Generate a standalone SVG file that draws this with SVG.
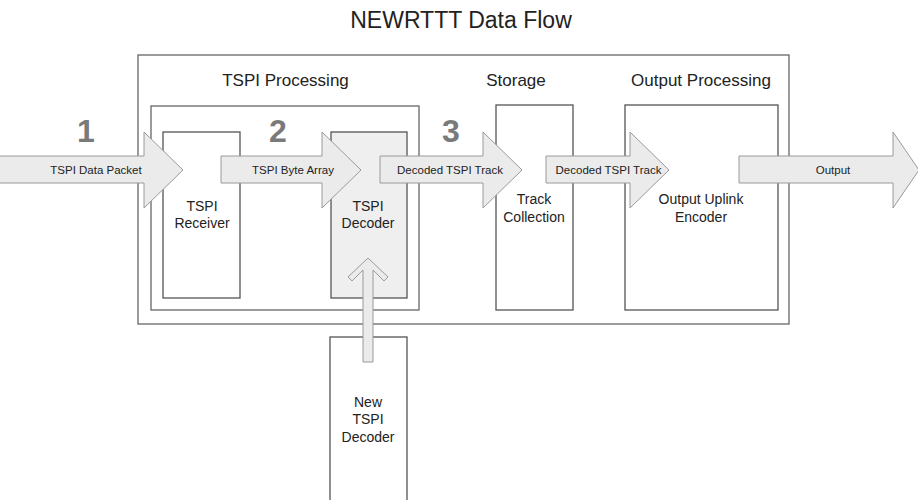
<svg xmlns="http://www.w3.org/2000/svg" width="918" height="500" viewBox="0 0 918 500">
<style>
text{font-family:"Liberation Sans",Arial,sans-serif;fill:#222;text-anchor:middle}
.title{font-size:23px}
.sec{font-size:17px}
.node{font-size:14px}
.lbl{font-size:11.5px}
.num{font-size:32px;font-weight:bold;fill:#7a7a7a}
.box{fill:#fff;stroke:#555;stroke-width:1.3}
.grp{fill:none;stroke:#666;stroke-width:1.3}
.arr{fill:#ebebeb;stroke:#9a9a9a;stroke-width:1}
</style>
<rect width="918" height="500" fill="#fff"/>
<text class="title" x="461" y="28">NEWRTTT Data Flow</text>
<g id="outer">
<rect class="grp" x="138" y="55" width="651" height="269"/>
<text class="sec" x="285.5" y="86">TSPI Processing</text>
<text class="sec" x="516" y="86">Storage</text>
<text class="sec" x="701" y="86">Output Processing</text>
</g>
<g id="tspi-processing">
<rect class="grp" x="151" y="106" width="268" height="204"/>
</g>
<g id="tspi-receiver">
<rect class="box" x="163" y="132" width="77" height="166"/>
<text class="node" x="202" y="211">TSPI</text>
<text class="node" x="202" y="228">Receiver</text>
</g>
<g id="tspi-decoder">
<rect class="box" x="331" y="132" width="76" height="166" style="fill:#efefef"/>
<text class="node" x="368" y="211">TSPI</text>
<text class="node" x="368" y="228">Decoder</text>
</g>
<g id="track-collection">
<rect class="box" x="496" y="105" width="77" height="205"/>
<text class="node" x="534" y="204">Track</text>
<text class="node" x="534" y="222">Collection</text>
</g>
<g id="output-encoder">
<rect class="box" x="625" y="105" width="153" height="205"/>
<text class="node" x="701" y="204">Output Uplink</text>
<text class="node" x="701" y="222">Encoder</text>
</g>
<g id="new-tspi-decoder">
<rect class="box" x="330" y="337" width="77" height="170"/>
<text class="node" x="368" y="407">New</text>
<text class="node" x="368" y="424">TSPI</text>
<text class="node" x="368" y="442">Decoder</text>
</g>
<g id="connectors">
<path class="arr" d="M-2,156 H144 V132 L183,170 L144,208 V183 H-2 Z"/>
<path class="arr" d="M221,156 H322 V132 L361,170 L322,208 V183 H221 Z"/>
<path class="arr" d="M380,156 H483 V132 L522,170 L483,208 V183 H380 Z"/>
<path class="arr" d="M546,156 H630 V132 L669,170 L630,208 V183 H546 Z"/>
<path class="arr" d="M739,156 H893 V132 L919,170 L893,208 V183 H739 Z"/>
<path class="arr" d="M368,258 L388,277 L384,281 L373,270 V362 H363 V270 L352,281 L348,277 Z"/>
<text class="lbl" x="96" y="174">TSPI Data Packet</text>
<text class="lbl" x="293" y="174">TSPI Byte Array</text>
<text class="lbl" x="450" y="174">Decoded TSPI Track</text>
<text class="lbl" x="608.5" y="174">Decoded TSPI Track</text>
<text class="lbl" x="833" y="174">Output</text>
</g>
<g id="steps">
<text class="num" x="86" y="142">1</text>
<text class="num" x="278" y="142">2</text>
<text class="num" x="451" y="142">3</text>
</g>
</svg>
